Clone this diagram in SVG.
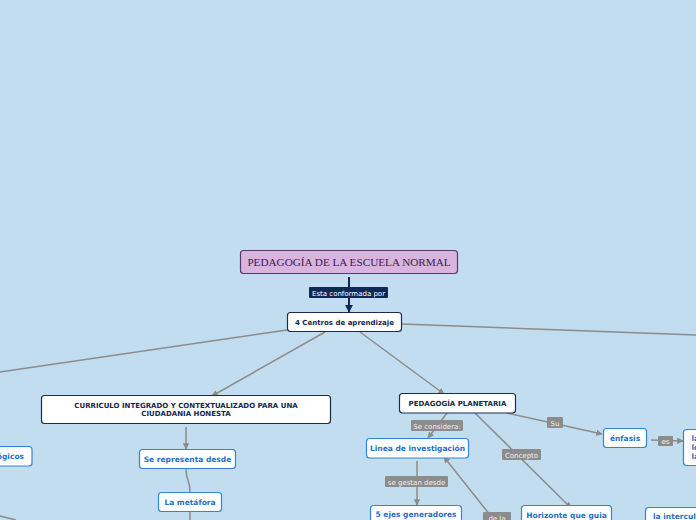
<svg xmlns="http://www.w3.org/2000/svg" width="696" height="520" viewBox="0 0 696 520">
<defs>
<marker id="ag" viewBox="0 0 10 10" refX="9" refY="5" markerWidth="6.5" markerHeight="6.5" orient="auto" markerUnits="userSpaceOnUse"><path d="M0,0 L10,5 L0,10 z" fill="#8c8c8c"/></marker>
<marker id="ad" viewBox="0 0 10 10" refX="9" refY="5" markerWidth="8" markerHeight="9" orient="auto" markerUnits="userSpaceOnUse"><path d="M0,0 L10,5 L0,10 z" fill="#0f2a52"/></marker>
<style>
.c{fill:none;stroke:#8c8c8c;stroke-width:1.5}
.lb{fill:#8c8c8c}
.lt{font-family:"DejaVu Sans",Verdana,sans-serif;font-size:7px;fill:#f0f0f0;text-anchor:middle}
.nd{fill:#fff;stroke:#1a2d50;stroke-width:1.2}
.nb{fill:#fff;stroke:#2f86d8;stroke-width:1.2}
.tn{font-family:"DejaVu Sans",Verdana,sans-serif;font-size:7px;font-weight:bold;fill:#14284a;text-anchor:middle}
.tb{font-family:"DejaVu Sans",Verdana,sans-serif;font-size:7.5px;font-weight:bold;fill:#1f70c8;text-anchor:middle}
</style>
</defs>
<rect width="696" height="520" fill="#c2ddf0"/>
<g id="connectors">
<path d="M349 277 L349 312" fill="none" stroke="#0f2a52" stroke-width="2" marker-end="url(#ad)"/>
<rect x="309" y="287" width="79" height="11" rx="1" fill="#0f2a52"/>
<text x="348.5" y="295.5" class="lt" style="fill:#ffffff">Esta conformada por</text>
<path class="c" d="M325 332 L212 396" marker-end="url(#ag)"/>
<path class="c" d="M360 332 L444 394" marker-end="url(#ag)"/>
<path class="c" d="M287 330 L0 372"/>
<path class="c" d="M402 324 L696 335"/>
<path class="c" d="M186 427 L186 449" marker-end="url(#ag)"/>
<path class="c" d="M186 469 C186 481 190 479 190 492"/>
<path class="c" d="M190 511 L190 520"/>
<path class="c" d="M0 516 L16 520"/>
<path class="c" d="M447 413 L428 438" marker-end="url(#ag)"/>
<rect x="411" y="420" width="52" height="11" rx="1" class="lb"/>
<text x="437" y="428.5" class="lt">Se considera:</text>
<path class="c" d="M475 413 L571 508" marker-end="url(#ag)"/>
<rect x="502" y="449" width="39" height="11" rx="1" class="lb"/>
<text x="521.5" y="457.5" class="lt">Concepto</text>
<path class="c" d="M507 413 L602 434" marker-end="url(#ag)"/>
<rect x="547" y="417" width="16" height="11" rx="1" class="lb"/>
<text x="555" y="425.5" class="lt">Su</text>
<path class="c" d="M417 461 L417 505" marker-end="url(#ag)"/>
<rect x="385" y="476" width="63" height="11" rx="1" class="lb"/>
<text x="416.5" y="484.5" class="lt">se gestan desde</text>
<path class="c" d="M494 520 L444 457" marker-end="url(#ag)"/>
<rect x="483" y="512" width="28" height="11" rx="1" class="lb"/>
<text x="497" y="520.5" class="lt">de la</text>
<path class="c" d="M651 440 L683 441" marker-end="url(#ag)"/>
<rect x="658" y="436" width="15" height="10" rx="1" class="lb"/>
<text x="665.5" y="444" class="lt">es</text>
</g>
<g id="n-title">
<rect x="240.5" y="250.5" width="217" height="23" rx="3" fill="#d9b4df" stroke="#5a3868" stroke-width="1.2"/>
<text x="349" y="265.5" font-family="'Liberation Serif','Times New Roman',serif" font-size="11.2" fill="#3a2050" text-anchor="middle">PEDAGOGÍA DE LA ESCUELA NORMAL</text>
</g>
<g id="n-centros">
<rect x="287.5" y="312.5" width="114" height="19" rx="3" class="nd"/>
<text x="344.5" y="324.5" class="tn">4 Centros de aprendizaje</text>
</g>
<g id="n-curriculo">
<rect x="41.5" y="395.5" width="289" height="28" rx="3" class="nd"/>
<text x="186" y="407.5" class="tn">CURRICULO INTEGRADO Y CONTEXTUALIZADO PARA UNA</text>
<text x="186" y="416" class="tn">CIUDADANIA HONESTA</text>
</g>
<g id="n-representa">
<rect x="139.5" y="449.5" width="96" height="19" rx="3" class="nb"/>
<text x="187.5" y="461.5" class="tb">Se representa desde</text>
</g>
<g id="n-metafora">
<rect x="158.5" y="492.5" width="63" height="19" rx="3" class="nb"/>
<text x="190" y="504.5" class="tb">La metáfora</text>
</g>
<g id="n-logicos">
<rect x="-20" y="446.5" width="52" height="19.5" rx="3" class="nb"/>
<text x="24" y="458.5" class="tb" style="text-anchor:end">ógicos</text>
</g>
<g id="n-planetaria">
<rect x="399.5" y="393.5" width="116" height="19.5" rx="3" class="nd"/>
<text x="457.5" y="405.5" class="tn">PEDAGOGÍA PLANETARIA</text>
</g>
<g id="n-linea">
<rect x="366.5" y="438.5" width="102" height="19.5" rx="3" class="nb"/>
<text x="417.5" y="450.5" class="tb">Linea de investigación</text>
</g>
<g id="n-ejes">
<rect x="370.5" y="505.5" width="91" height="20" rx="3" class="nb"/>
<text x="416" y="517" class="tb">5 ejes generadores</text>
</g>
<g id="n-horizonte">
<rect x="521.5" y="505.5" width="90" height="20" rx="3" class="nb"/>
<text x="566.5" y="517.5" class="tb">Horizonte que guia</text>
</g>
<g id="n-enfasis">
<rect x="603.5" y="428.5" width="43" height="19" rx="3" class="nb"/>
<text x="625" y="440.5" class="tb">énfasis</text>
</g>
<g id="n-la">
<rect x="683.5" y="429.5" width="30" height="36" rx="3" class="nb"/>
<text x="691.5" y="441" class="tb" style="text-anchor:start">la</text>
<text x="691.5" y="450" class="tb" style="text-anchor:start">le</text>
<text x="691.5" y="459" class="tb" style="text-anchor:start">la</text>
</g>
<g id="n-intercult">
<rect x="645.5" y="507.5" width="70" height="20" rx="3" class="nb"/>
<text x="653" y="519" class="tb" style="text-anchor:start">la intercult</text>
</g>
</svg>
